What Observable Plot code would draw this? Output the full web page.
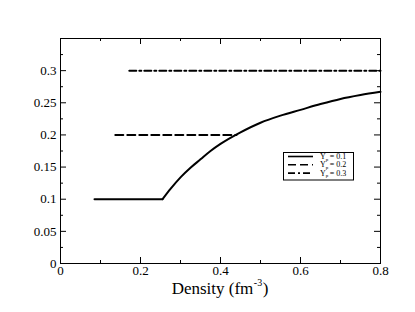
<!DOCTYPE html>
<html><head><meta charset="utf-8">
<script src="https://cdn.jsdelivr.net/npm/d3@7"></script>
<script src="https://cdn.jsdelivr.net/npm/@observablehq/plot@0.6"></script>
<style>
body{margin:0;background:#fff;}
#c{width:415px;height:312px;}
</style></head><body><div id="c"></div>
<script>
// Yp = 0.1 (solid): flat part then rising curve
const yp01Density = [0.085, 0.255, 0.275, 0.3, 0.325, 0.35, 0.375, 0.4, 0.45, 0.5, 0.55, 0.6, 0.65, 0.7, 0.75, 0.8];
const yp01Value   = [0.1,   0.1,   0.116, 0.134, 0.149, 0.162, 0.175, 0.186, 0.204, 0.219, 0.230, 0.239, 0.248, 0.256, 0.262, 0.267];
// Yp = 0.2 (dashed)
const yp02Density = [0.137, 0.44];
const yp02Value   = [0.2, 0.2];
// Yp = 0.3 (dash-dot)
const yp03Density = [0.172, 0.8];
const yp03Value   = [0.3, 0.3];
const legendLabels = ["0.1", "0.2", "0.3"];
const xTicks = [0, 0.2, 0.4, 0.6, 0.8];
const xMinor = [0.1, 0.3, 0.5, 0.7];
const yTicks = [0, 0.05, 0.1, 0.15, 0.2, 0.25, 0.3];
const yMinor = [0.025, 0.075, 0.125, 0.175, 0.225, 0.275, 0.325];

const kink = 0.255;
const s1 = yp01Density.map((x,i)=>({x, y: yp01Value[i]}));
const flat = s1.filter(d=>d.x <= kink);
const rise = s1.filter(d=>d.x >= kink);
const s2 = yp02Density.map((x,i)=>({x, y: yp02Value[i]}));
const s3 = yp03Density.map((x,i)=>({x, y: yp03Value[i]}));

const W = 415, H = 312, mt = 38, mb = 49, ml = 60, mr = 35;
const ih = H - mt - mb, iw = W - ml - mr;
const font = "Liberation Serif, Times New Roman, serif";
const majorTick = 6, minorTick = 3;

const chart = Plot.plot({
  width: W, height: H,
  marginTop: mt, marginBottom: mb, marginLeft: ml, marginRight: mr,
  style: `font-family: ${font}; background: #fff; color: #000;`,
  x: {domain: [0, 0.8]},
  y: {domain: [0, 0.35]},
  marks: [
    Plot.frame({stroke: "#000", strokeWidth: 1}),
    // inward ticks: bottom & top, left & right
    Plot.tickX(xTicks, {x: d=>d, insetTop: ih - majorTick, stroke: "#000"}),
    Plot.tickX(xMinor, {x: d=>d, insetTop: ih - minorTick, stroke: "#000"}),
    Plot.tickX(xTicks, {x: d=>d, insetBottom: ih - majorTick, stroke: "#000"}),
    Plot.tickX(xMinor, {x: d=>d, insetBottom: ih - minorTick, stroke: "#000"}),
    Plot.tickY(yTicks, {y: d=>d, insetRight: iw - majorTick, stroke: "#000"}),
    Plot.tickY(yMinor, {y: d=>d, insetRight: iw - minorTick, stroke: "#000"}),
    Plot.tickY(yTicks, {y: d=>d, insetLeft: iw - majorTick, stroke: "#000"}),
    Plot.tickY(yMinor, {y: d=>d, insetLeft: iw - minorTick, stroke: "#000"}),
    Plot.axisX({ticks: xTicks, tickSize: 0, tickPadding: 2, fontSize: 13, fontFamily: font, fill: "#000", tickFormat: d=>String(d), label: null}),
    Plot.axisY({ticks: yTicks, tickSize: 0, tickPadding: 4, fontSize: 13, fontFamily: font, fill: "#000", tickFormat: d=>String(d), label: null}),
    Plot.line(flat, {x: "x", y: "y", stroke: "#000", strokeWidth: 2}),
    Plot.line(rise, {x: "x", y: "y", stroke: "#000", strokeWidth: 2, curve: "monotone-x"}),
    Plot.line(s2, {x: "x", y: "y", stroke: "#000", strokeWidth: 2, strokeDasharray: "8,4"}),
    Plot.line(s3, {x: "x", y: "y", stroke: "#000", strokeWidth: 2, strokeDasharray: "7,3,2,3"})
  ]
});
document.getElementById("c").appendChild(chart);

const svg = d3.select(chart);
// axis title with superscript, built from separate text pieces
const tg = svg.append("g").attr("font-family", font).attr("fill", "#000").attr("text-anchor", "start");
const p1 = tg.append("text").attr("y", 294).attr("font-size", 17).text("Density (fm");
const p2 = tg.append("text").attr("y", 286).attr("font-size", 10).text("-3");
const p3 = tg.append("text").attr("y", 294).attr("font-size", 17).text(")");
const w1 = p1.node().getComputedTextLength();
const w2 = p2.node().getComputedTextLength();
const w3 = p3.node().getComputedTextLength();
const x0 = 220 - (w1 + w2 + w3 + 1) / 2;
p1.attr("x", x0);
p2.attr("x", x0 + w1 + 0.5);
p3.attr("x", x0 + w1 + w2 + 1);

// legend
const lg = svg.append("g").attr("font-family", font).attr("fill", "#000").attr("text-anchor", "start");
lg.append("rect").attr("x", 283.5).attr("y", 152.5).attr("width", 70).attr("height", 27.5)
  .attr("fill", "#fff").attr("stroke", "#000").attr("stroke-width", 1);
const dashes = [null, "8,4", "7,3,2,3"];
legendLabels.forEach((lab, i) => {
  const yy = 156.5 + i * 8.3;
  lg.append("line").attr("x1", 288).attr("x2", 313).attr("y1", yy).attr("y2", yy)
    .attr("stroke", "#000").attr("stroke-width", 1.6).attr("stroke-dasharray", dashes[i]);
  const a = lg.append("text").attr("x", 320).attr("y", yy + 2.6).attr("font-size", 8).text("Y");
  const aw = a.node().getComputedTextLength();
  const b = lg.append("text").attr("x", 320 + aw).attr("y", yy + 4.2).attr("font-size", 5).text("p");
  const bw = b.node().getComputedTextLength();
  lg.append("text").attr("x", 320 + aw + bw + 1.5).attr("y", yy + 2.6).attr("font-size", 8).text("= " + lab);
});
</script></body></html>
